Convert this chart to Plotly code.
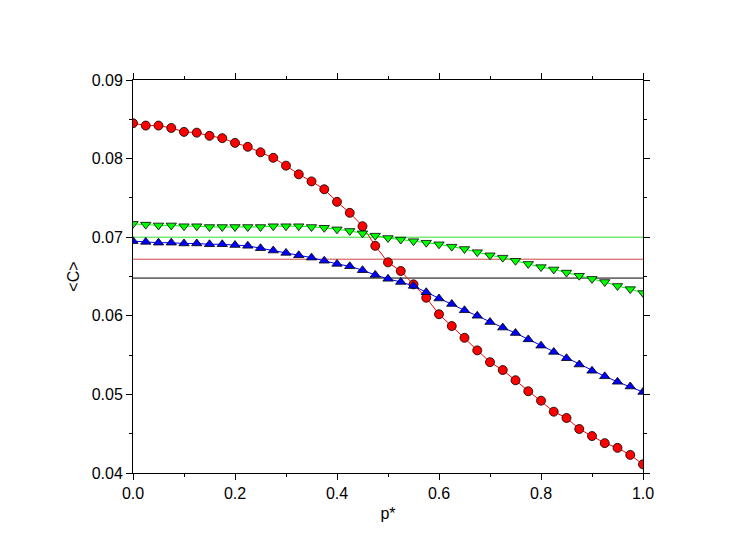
import plotly.graph_objects as go

p = [i * 0.025 for i in range(41)]

red = [.0845, .0842, .0842, .0839, .0834, .0833, .0829, .0826, .0820, .0815,
       .0808, .0801, .0791, .0780, .0771, .0761, .0745, .0731, .0714, .0689,
       .0668, .0657, .0640, .0623, .0602, .0587, .0572, .0556, .0541, .0531,
       .0518, .0504, .0492, .0478, .0470, .0456, .0447, .0438, .0432, .0423, .0411]
blue = [.0695, .0694, .0693, .0693, .0692, .0692, .0691, .0691, .0690, .0689,
        .0686, .0683, .0680, .0677, .0674, .0670, .0666, .0663, .0658, .0652,
        .0647, .0643, .0638, .0630, .0622, .0615, .0607, .0600, .0592, .0585,
        .0578, .0570, .0562, .0554, .0546, .0538, .0530, .0523, .0516, .0510, .0503]
green = [.0717, .0716, .0715, .0715, .0714, .0714, .0713, .0713, .0713, .0713,
         .0713, .0714, .0714, .0714, .0713, .0712, .0710, .0708, .0705, .0702,
         .0699, .0697, .0695, .0693, .0691, .0688, .0685, .0681, .0677, .0674,
         .0670, .0666, .0662, .0659, .0655, .0651, .0647, .0643, .0638, .0634, .0629]

ref_levels = [(0.0700, "#33dd33"), (0.0672, "#cc4444"), (0.0648, "black")]

fig = go.Figure()
for lvl, col in ref_levels:
    fig.add_trace(go.Scatter(x=[0, 1], y=[lvl, lvl], mode="lines",
                             line=dict(color=col, width=1), showlegend=False))

series = [(red, "red", "circle"), (blue, "blue", "triangle-up"),
          (green, "#00ff00", "triangle-down")]
for vals, col, sym in series:
    fig.add_trace(go.Scatter(
        x=p, y=vals, mode="lines+markers",
        line=dict(color=col, width=1),
        marker=dict(symbol=sym, size=9, color=col, line=dict(color="black", width=0.8)),
        showlegend=False))

axis = dict(showline=True, linecolor="black", linewidth=1, mirror="allticks",
            ticks="outside", ticklen=6, tickcolor="black", showgrid=False,
            zeroline=False, tickfont=dict(size=16, color="black"))

fig.update_layout(
    width=747, height=547,
    plot_bgcolor="white", paper_bgcolor="white",
    font=dict(family="Arial, Liberation Sans, sans-serif", color="black"),
    margin=dict(l=125, r=112, t=72, b=82),
    xaxis=dict(axis, range=[0, 1], dtick=0.2, tickformat=".1f",
               title=dict(text="p*", font=dict(size=16), standoff=6),
               minor=dict(ticks="outside", ticklen=3, tickcolor="black", dtick=0.1)),
    yaxis=dict(axis, range=[0.04, 0.09], dtick=0.01, tickformat=".2f",
               title=dict(text="<C>", font=dict(size=16), standoff=8),
               minor=dict(ticks="outside", ticklen=3, tickcolor="black", dtick=0.005)),
)

fig.write_html("out.html")
